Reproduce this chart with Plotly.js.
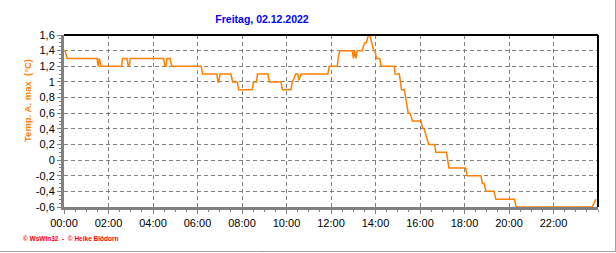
<!DOCTYPE html>
<html>
<head>
<meta charset="utf-8">
<script src="https://cdn.plot.ly/plotly-3.0.1.min.js"></script>
<style>
  html, body { margin: 0; padding: 0; background: #fff; }
  #chart { width: 616px; height: 253px; }
</style>
</head>
<body>
<div id="chart"></div>
<script>
// ---- Data (hour of day, temperature max in °C) ----
const hours = [
  0.00, 0.05, 0.09, 0.14,
  1.49, 1.53, 1.59, 1.65,
  2.59, 2.63, 2.83, 2.89, 2.93, 2.98,
  4.48, 4.53, 4.58, 4.63, 4.77, 4.84,
  6.17, 6.23, 6.87, 6.92, 6.96, 7.01, 7.50, 7.58, 7.79, 7.85,
  8.46, 8.51, 8.66, 8.69, 9.17, 9.23, 9.75, 9.82,
  10.20, 10.26, 10.34, 10.41, 10.51, 10.56, 10.65,
  11.86, 11.92, 12.28, 12.32, 12.39,
  12.95, 13.01, 13.06, 13.12, 13.18,
  13.40, 13.45, 13.52, 13.59, 13.63, 13.68, 13.74, 13.78, 13.84, 13.92,
  13.98, 14.04, 14.19, 14.25,
  14.84, 14.88, 15.07, 15.12, 15.17, 15.30, 15.36, 15.42, 15.47, 15.55, 15.66,
  16.05, 16.10, 16.18, 16.24, 16.32, 16.39, 16.66, 16.71,
  17.19, 17.24, 17.30, 18.05, 18.12, 18.74, 18.80, 18.88, 18.96,
  19.32, 19.41, 20.24, 20.32, 23.74, 23.82, 23.90
];
const tempMax = [
  1.40, 1.40, 1.35, 1.30,
  1.30, 1.20, 1.30, 1.20,
  1.20, 1.30, 1.30, 1.20, 1.20, 1.30,
  1.30, 1.20, 1.20, 1.30, 1.30, 1.20,
  1.20, 1.10, 1.10, 1.00, 1.00, 1.10, 1.10, 1.00, 1.00, 0.90,
  0.90, 1.00, 1.00, 1.10, 1.10, 1.00, 1.00, 0.90,
  0.90, 1.00, 1.05, 1.10, 1.10, 1.02, 1.10,
  1.10, 1.20, 1.20, 1.30, 1.40,
  1.40, 1.30, 1.40, 1.30, 1.40,
  1.40, 1.45, 1.50, 1.50, 1.55, 1.60, 1.60, 1.55, 1.48, 1.40,
  1.40, 1.30, 1.30, 1.20,
  1.20, 1.10, 1.10, 1.00, 0.90, 0.90, 0.80, 0.70, 0.60, 0.60, 0.50,
  0.50, 0.42, 0.40, 0.35, 0.28, 0.20, 0.20, 0.10,
  0.10, 0.00, -0.10, -0.10, -0.20, -0.20, -0.30, -0.30, -0.40,
  -0.40, -0.50, -0.50, -0.60, -0.60, -0.55, -0.50
];

// ---- Axis ticks ----
const xTickVals = [0, 2, 4, 6, 8, 10, 12, 14, 16, 18, 20, 22];
const xTickText = ["00:00", "02:00", "04:00", "06:00", "08:00", "10:00", "12:00", "14:00", "16:00", "18:00", "20:00", "22:00"];
const yTickVals = [1.6, 1.4, 1.2, 1.0, 0.8, 0.6, 0.4, 0.2, 0, -0.2, -0.4, -0.6];
const yTickText = ["1,6", "1,4", "1,2", "1", "0,8", "0,6", "0,4", "0,2", "0", "-0,2", "-0,4", "-0,6"];

const chartTitle = "Freitag, 02.12.2022";
const yTitle = "Temp. A. max  (°C)";
const credits = "© WsWin32  -  © Heike Blödorn";

// ---- Geometry ----
const W = 616, H = 253;
const M = { l: 64, r: 18, t: 35, b: 46 };
const pw = W - M.l - M.r, ph = H - M.t - M.b;
const px2paperX = x => (x - M.l) / pw;
const px2paperY = y => (H - M.b - y) / ph;

const sans = "Liberation Sans, Arial, sans-serif";

const trace = {
  x: hours, y: tempMax,
  type: "scatter", mode: "lines",
  line: { color: "#FF8000", width: 1.5 },
  hoverinfo: "skip"
};

const layout = {
  width: W, height: H,
  margin: M,
  paper_bgcolor: "#ffffff",
  plot_bgcolor: "#ffffff",
  showlegend: false,
  title: {
    text: "<b>" + chartTitle + "</b>",
    font: { family: sans, size: 10.5, color: "#0000FF" },
    xref: "container", yref: "container",
    x: 262 / W, xanchor: "center",
    y: 1 - 19 / H, yanchor: "middle"
  },
  xaxis: {
    range: [0, 24],
    tickmode: "array", tickvals: xTickVals, ticktext: xTickText,
    tickfont: { family: sans, size: 11, color: "#000" },
    ticks: "outside", ticklen: 4, tickwidth: 1, tickcolor: "#808080",
    minor: { tickmode: "linear", tick0: 0, dtick: 0.5, ticks: "outside", ticklen: 2, tickcolor: "#808080", showgrid: false },
    showgrid: true, gridcolor: "#808080", gridwidth: 1, griddash: "4px,3px",
    showline: true, linecolor: "#808080", linewidth: 3,
    zeroline: false, fixedrange: true
  },
  yaxis: {
    range: [-0.6, 1.6],
    tickmode: "array", tickvals: yTickVals, ticktext: yTickText,
    tickfont: { family: sans, size: 11, color: "#000" },
    ticks: "outside", ticklen: 4, tickwidth: 1, tickcolor: "#808080",
    minor: { tickmode: "linear", tick0: 0, dtick: 0.05, ticks: "outside", ticklen: 2, tickcolor: "#808080", showgrid: false },
    showgrid: true, gridcolor: "#808080", gridwidth: 1, griddash: "4px,3px",
    showline: true, linecolor: "#808080", linewidth: 3,
    zeroline: false, fixedrange: true
  },
  shapes: [
    { type: "line", xref: "paper", yref: "paper", x0: 0, x1: 1, y0: 1, y1: 1, line: { color: "#000", width: 2 } },
    { type: "line", xref: "paper", yref: "paper", x0: 1, x1: 1, y0: 0, y1: 1, line: { color: "#000", width: 2 } },
    { type: "line", xref: "paper", yref: "paper", x0: px2paperX(0), x1: px2paperX(616), y0: px2paperY(251.5), y1: px2paperY(251.5), line: { color: "#a0a0a0", width: 1 } },
    { type: "line", xref: "paper", yref: "paper", x0: px2paperX(615.5), x1: px2paperX(615.5), y0: px2paperY(0), y1: px2paperY(252), line: { color: "#a0a0a0", width: 1 } }
  ],
  annotations: [
    {
      text: "<b>" + yTitle + "</b>", textangle: -90,
      xref: "paper", yref: "paper",
      x: px2paperX(27), y: px2paperY(101),
      xanchor: "center", yanchor: "middle", showarrow: false,
      font: { family: sans, size: 9.5, color: "#FF8000" }
    },
    {
      text: "<b>" + credits + "</b>",
      xref: "paper", yref: "paper",
      x: px2paperX(21), y: px2paperY(238.5),
      xanchor: "left", yanchor: "middle", showarrow: false,
      font: { family: sans, size: 6.5, color: "#FF0000" }
    }
  ]
};

Plotly.newPlot("chart", [trace], layout, { displayModeBar: false, staticPlot: true });
</script>
</body>
</html>
